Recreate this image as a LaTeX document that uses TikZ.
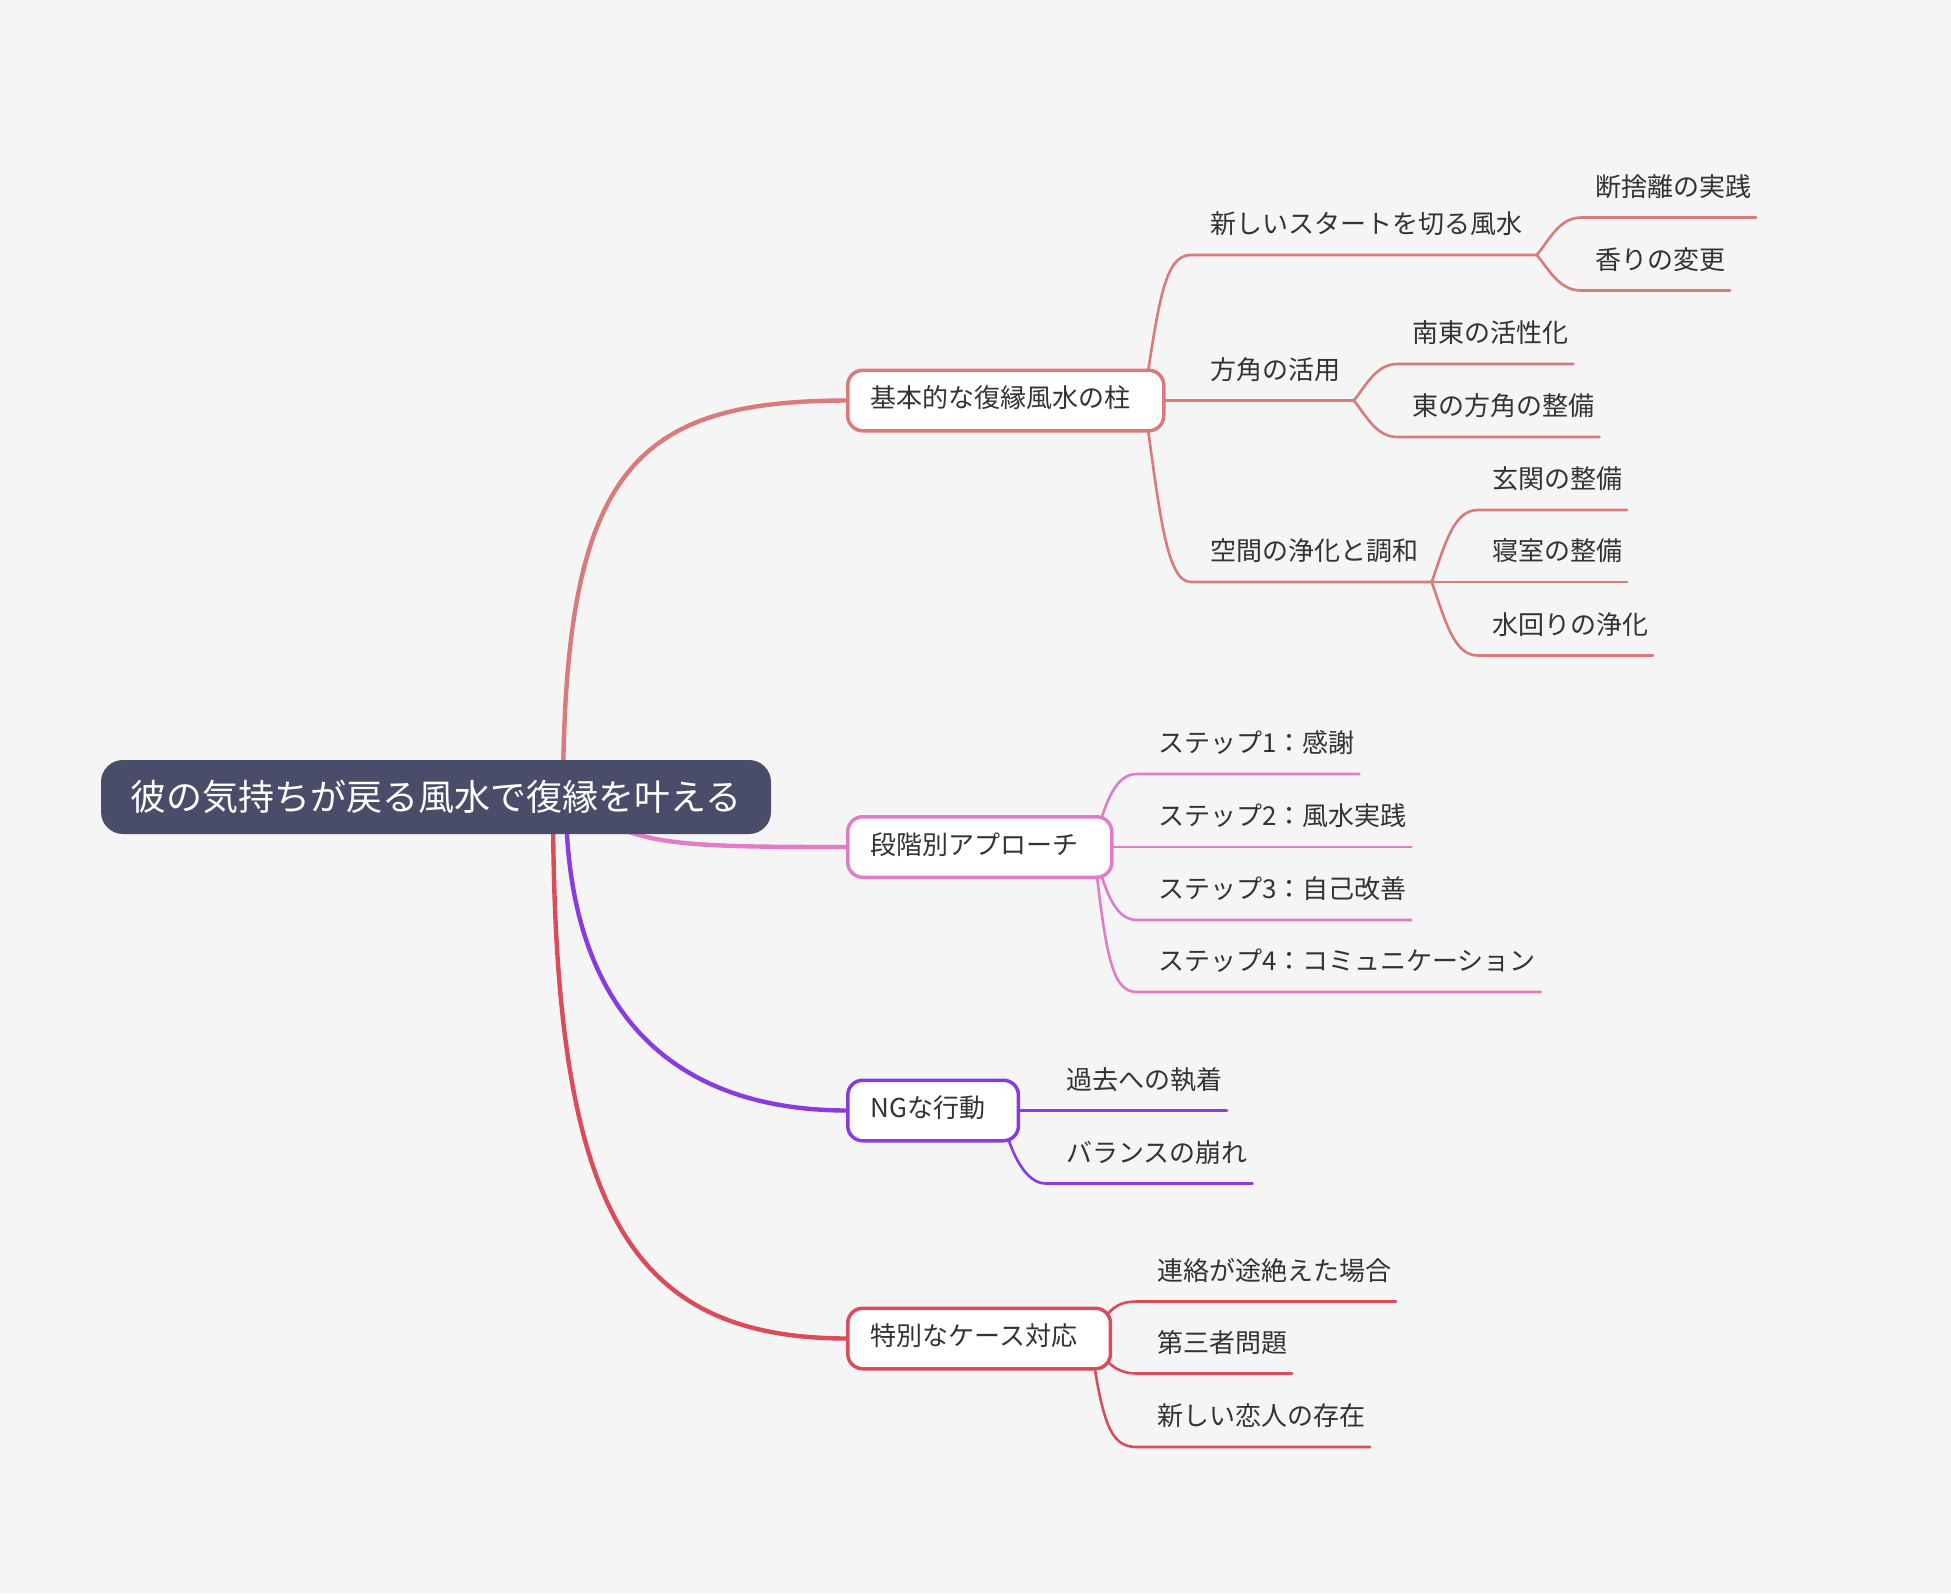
\documentclass[tikz,border=0pt]{standalone}
\usepackage{fontspec}
\setmainfont{Noto Sans CJK JP}
\pgfdeclarelayer{bg}
\pgfsetlayers{bg,main}
\definecolor{bgc}{HTML}{F5F5F5}
\definecolor{rootc}{HTML}{4A4D69}
\definecolor{txt}{HTML}{333333}
\definecolor{ca}{HTML}{D97A7C}
\definecolor{cb}{HTML}{E07CC8}
\definecolor{cc}{HTML}{8A3BE0}
\definecolor{cd}{HTML}{DC4B5B}
\newcommand{\padr}{\hspace*{10pt}}
\begin{document}
\begin{tikzpicture}[x=1pt,y=-1pt,
  every node/.style={inner sep=0pt,outer sep=0pt},
  rootnode/.style={fill=rootc,rounded corners=22pt,minimum width=670pt,minimum height=74pt,
    text=white,font=\fontsize{36pt}{40pt}\selectfont,text height=31.7pt,text depth=4.3pt},
  topic/.style={draw=#1,fill=white,line width=3.5pt,rounded corners=15pt,minimum height=60.5pt,
    inner xsep=23pt,text=txt,font=\fontsize{26pt}{30pt}\selectfont,text height=22.9pt,text depth=8.1pt,anchor=west},
  leaf/.style={text=txt,font=\fontsize{26pt}{30pt}\selectfont,text height=22.9pt,text depth=3.1pt,anchor=west},
  mainline/.style={draw=#1,line width=4.4pt,line cap=round},
  subline/.style={draw=#1,line width=2.6pt,line cap=round,line join=round},
]
\begin{pgfonlayer}{bg}
\fill[bgc] (0,0) rectangle (1951,1593);
\end{pgfonlayer}
\useasboundingbox (0,0) rectangle (1951,1593);

% root and main topics
\node[rootnode] (root) at (436,797) {彼の気持ちが戻る風水で復縁を叶える};
\node[topic=ca] (t1) at (847.75,400.5) {基本的な復縁風水の柱\padr};
\node[topic=cb] (t2) at (847.75,847) {段階別アプローチ\padr};
\node[topic=cc] (t3) at (847.75,1110.5) {NGな行動\padr};
\node[topic=cd] (t4) at (847.75,1338.5) {特別なケース対応\padr};

\coordinate (r1) at (563,800);
\coordinate (r2) at (560,797);
\coordinate (r3) at (566,800);
\coordinate (r4) at (553,800);

% branch 1 texts
\node[leaf] (a1) at (1210.7,224) {新しいスタートを切る風水};
\node[leaf] (a2) at (1210.7,369.5) {方角の活用};
\node[leaf] (a3) at (1210.7,551) {空間の浄化と調和};
\node[leaf] (a11) at (1595,186.5) {断捨離の実践};
\node[leaf] (a12) at (1595,259.5) {香りの変更};
\node[leaf] (a21) at (1412.5,333) {南東の活性化};
\node[leaf] (a22) at (1412.5,406) {東の方角の整備};
\node[leaf] (a31) at (1492,479) {玄関の整備};
\node[leaf] (a32) at (1492,551) {寝室の整備};
\node[leaf] (a33) at (1492,624.5) {水回りの浄化};

% branch 2 texts
\node[leaf] (b1) at (1158,743) {ステップ1：感謝};
\node[leaf] (b2) at (1158,816) {ステップ2：風水実践};
\node[leaf] (b3) at (1158,889) {ステップ3：自己改善};
\node[leaf] (b4) at (1158,961) {ステップ4：コミュニケーション};

% branch 3 texts
\node[leaf] (c1) at (1066,1079.5) {過去への執着};
\node[leaf] (c2) at (1066,1152.5) {バランスの崩れ};

% branch 4 texts
\node[leaf] (d1) at (1157,1270.5) {連絡が途絶えた場合};
\node[leaf] (d2) at (1157,1342.5) {第三者問題};
\node[leaf] (d3) at (1157,1416) {新しい恋人の存在};

% junctions
\coordinate (S1) at ([xshift=-20pt]t1.east);
\coordinate (S2) at ([xshift=-18pt]t2.east);
\coordinate (S3) at ([xshift=-18pt]t3.east);
\coordinate (S4) at ([xshift=-20pt]t4.east);
\coordinate (J1) at ([xshift=14pt,yshift=-31pt]a1.east);
\coordinate (J2) at ([xshift=13pt,yshift=-31pt]a2.east);
\coordinate (J3) at ([xshift=13pt,yshift=-31pt]a3.east);

\begin{pgfonlayer}{bg}
% main branches
\draw[mainline=ca] (r1) .. controls +(0,-330) and +(-215,0) .. (t1.west);
\draw[mainline=cb] (r2) .. controls +(78,48) and +(-190,0) .. (t2.west);
\draw[mainline=cc] (r3) .. controls +(0,200) and +(-186,0) .. (t3.west);
\draw[mainline=cd] (r4) .. controls +(0,400) and +(-226,0) .. (t4.west);

% branch 1
\draw[subline=ca] (S1) .. controls +(15,-100) and +(-26,0) .. ([xshift=-20pt,yshift=-31pt]a1.west) -- (J1);
\draw[subline=ca] (S1) -- (J2);
\draw[subline=ca] (S1) .. controls +(15,100) and +(-26,0) .. ([xshift=-20pt,yshift=-31pt]a3.west) -- (J3);
\draw[subline=ca] (J1) .. controls +(12,-14) and +(-22,0) .. ([xshift=-14pt,yshift=-31pt]a11.west) -- ([xshift=5pt,yshift=-31pt]a11.east);
\draw[subline=ca] (J1) .. controls +(12,14) and +(-22,0) .. ([xshift=-14pt,yshift=-31pt]a12.west) -- ([xshift=5pt,yshift=-31pt]a12.east);
\draw[subline=ca] (J2) .. controls +(12,-14) and +(-22,0) .. ([xshift=-15pt,yshift=-31pt]a21.west) -- ([xshift=5pt,yshift=-31pt]a21.east);
\draw[subline=ca] (J2) .. controls +(12,14) and +(-22,0) .. ([xshift=-15pt,yshift=-31pt]a22.west) -- ([xshift=5pt,yshift=-31pt]a22.east);
\draw[subline=ca] (J3) .. controls +(14,-40) and +(-24,0) .. ([xshift=-14pt,yshift=-31pt]a31.west) -- ([xshift=5pt,yshift=-31pt]a31.east);
\draw[subline=ca] (J3) -- ([xshift=5pt,yshift=-31pt]a32.east);
\draw[subline=ca] (J3) .. controls +(14,40) and +(-24,0) .. ([xshift=-14pt,yshift=-31pt]a33.west) -- ([xshift=5pt,yshift=-31pt]a33.east);

% branch 2
\draw[subline=cb] (S2) .. controls +(12,-50) and +(-20,0) .. ([xshift=-21pt,yshift=-31pt]b1.west) -- ([xshift=5pt,yshift=-31pt]b1.east);
\draw[subline=cb] (S2) -- ([xshift=5pt,yshift=-31pt]b2.east);
\draw[subline=cb] (S2) .. controls +(12,50) and +(-20,0) .. ([xshift=-21pt,yshift=-31pt]b3.west) -- ([xshift=5pt,yshift=-31pt]b3.east);
\draw[subline=cb] (S2) .. controls +(12,110) and +(-25,0) .. ([xshift=-21pt,yshift=-31pt]b4.west) -- ([xshift=5pt,yshift=-31pt]b4.east);

% branch 3
\draw[subline=cc] (S3) -- ([xshift=5pt,yshift=-31pt]c1.east);
\draw[subline=cc] (S3) .. controls +(10,45) and +(-20,0) .. ([xshift=-20pt,yshift=-31pt]c2.west) -- ([xshift=5pt,yshift=-31pt]c2.east);

% branch 4
\draw[subline=cd] (S4) .. controls +(18,-30) and +(-20,0) .. ([xshift=-20pt,yshift=-31pt]d1.west) -- ([xshift=5pt,yshift=-31pt]d1.east);
\draw[subline=cd] (S4) .. controls +(15,25) and +(-20,0) .. ([xshift=-20pt,yshift=-31pt]d2.west) -- ([xshift=5pt,yshift=-31pt]d2.east);
\draw[subline=cd] (S4) .. controls +(12,90) and +(-25,0) .. ([xshift=-20pt,yshift=-31pt]d3.west) -- ([xshift=5pt,yshift=-31pt]d3.east);
\end{pgfonlayer}
\end{tikzpicture}
\end{document}
